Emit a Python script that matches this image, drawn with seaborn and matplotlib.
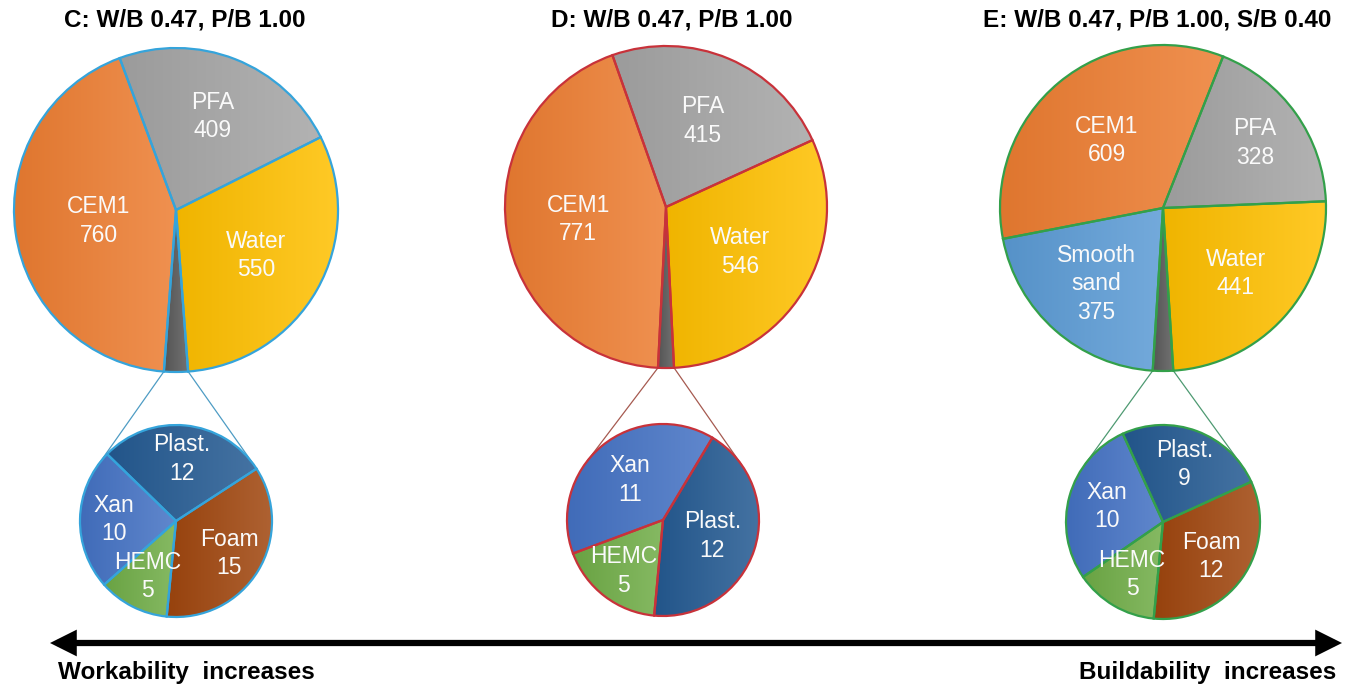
import numpy as np
import matplotlib
matplotlib.use("Agg")
import matplotlib.pyplot as plt
import seaborn as sns
from matplotlib.patches import FancyArrowPatch
from matplotlib.colors import to_rgb

# ---- data (kg/m3) ----
titles = ["C: W/B 0.47, P/B 1.00",
          "D: W/B 0.47, P/B 1.00",
          "E: W/B 0.47, P/B 1.00, S/B 0.40"]

C_main_labels = ["Water", "PFA", "CEM1"]
C_main_values = [550, 409, 760]
C_admix_labels = ["Plast.", "Xan", "HEMC", "Foam"]
C_admix_values = [12, 10, 5, 15]

D_main_labels = ["Water", "PFA", "CEM1"]
D_main_values = [546, 415, 771]
D_admix_labels = ["Xan", "HEMC", "Plast."]
D_admix_values = [11, 5, 12]

E_main_labels = ["Water", "PFA", "CEM1", "Smooth\nsand"]
E_main_values = [441, 328, 609, 375]
E_admix_labels = ["Plast.", "Xan", "HEMC", "Foam"]
E_admix_values = [9, 10, 5, 12]

left_note = "Workability  increases"
right_note = "Buildability  increases"

# ---- styling / layout (pixel units, y up) ----
colors = {"CEM1": "#ED7D31", "PFA": "#A5A5A5", "Water": "#FFC000",
          "Smooth\nsand": "#5B9BD5", "admix": "#5A5A5A",
          "Plast.": "#245A92", "Xan": "#4472C4", "HEMC": "#70AD47",
          "Foam": "#A0460E"}

mixes = [
    dict(main=(C_main_labels, C_main_values), small=(C_admix_labels, C_admix_values),
         center=(176, 475), r=162, s_center=(176, 164), s_r=96, s_start=33,
         edge="#35A4DB", link="#4E9CC4", title_x=185,
         main_dist=[0.57, 0.62, 0.48], small_dist=[0.65, 0.65, 0.65, 0.65]),
    dict(main=(D_main_labels, D_main_values), small=(D_admix_labels, D_admix_values),
         center=(666, 478), r=161, s_center=(663, 165), s_r=96, s_start=59,
         edge="#C8323A", link="#A65A50", title_x=672,
         main_dist=[0.54, 0.58, 0.55], small_dist=[0.54, 0.67, 0.54]),
    dict(main=(E_main_labels, E_main_values), small=(E_admix_labels, E_admix_values),
         center=(1163, 477), r=163, s_center=(1163, 163), s_r=97, s_start=24.5,
         edge="#33A04A", link="#4E9A72", title_x=1157,
         main_dist=[0.6, 0.69, 0.54, 0.62], small_dist=[0.63, 0.6, 0.63, 0.61]),
]

sns.set_theme(style="white")
plt.rcParams['font.family'] = ['Liberation Sans', 'DejaVu Sans']

W, H = 1353, 685
fig = plt.figure(figsize=(W / 100, H / 100), dpi=100)
ax = fig.add_axes([0, 0, 1, 1])


def shade(c, f):
    r, g, b = to_rgb(c)
    if f < 0:
        return (r * (1 + f), g * (1 + f), b * (1 + f))
    return (r + (1 - r) * f, g + (1 - g) * f, b + (1 - b) * f)


def gradient_fill(wedges, cols):
    # Excel-like horizontal gradient inside each wedge
    for w, c in zip(wedges, cols):
        v = w.get_path().vertices
        cmap = sns.blend_palette([shade(c, -0.06), shade(c, 0.15)], as_cmap=True)
        grad = np.linspace(0, 1, 128).reshape(1, -1)
        im = ax.imshow(grad, extent=(v[:, 0].min(), v[:, 0].max(), v[:, 1].min(), v[:, 1].max()),
                       cmap=cmap, origin='lower', interpolation='bilinear', zorder=2)
        im.set_clip_path(w)


def draw_pie(values, cols, center, r, start, edge):
    wedges, _ = ax.pie(values, colors=cols, startangle=start, counterclock=True,
                       center=center, radius=r, wedgeprops=dict(linewidth=0, zorder=1))
    gradient_fill(wedges, cols)
    ax.pie(values, startangle=start, counterclock=True, center=center, radius=r,
           wedgeprops=dict(fill=False, edgecolor=edge, linewidth=1.6, zorder=3))
    return wedges


def put_labels(wedges, labels, values, dists):
    for w, lab, val, d in zip(wedges, labels, values, dists):
        mid = np.deg2rad((w.theta1 + w.theta2) / 2)
        x = w.center[0] + d * w.r * np.cos(mid)
        y = w.center[1] + d * w.r * np.sin(mid)
        ax.text(x, y, f"{lab}\n{val}", ha='center', va='center', color='#FAFAFA',
                fontsize=16.5, linespacing=1.3, zorder=4)


for m, title in zip(mixes, titles):
    labels, values = m["main"]
    s_labels, s_values = m["small"]
    admix_total = sum(s_values)
    all_vals = [admix_total] + values
    cols = [colors["admix"]] + [colors[l] for l in labels]
    start = 270 - 180 * admix_total / sum(all_vals)
    wedges = draw_pie(all_vals, cols, m["center"], m["r"], start, m["edge"])
    put_labels(wedges[1:], labels, values, m["main_dist"])

    s_cols = [colors[l] for l in s_labels]
    s_wedges = draw_pie(s_values, s_cols, m["s_center"], m["s_r"], m["s_start"], m["edge"])
    put_labels(s_wedges, s_labels, s_values, m["small_dist"])

    # connector lines: from admix slice corners, tangent to the small pie
    g = wedges[0]
    cx, cy = m["s_center"]
    for th, sign in ((g.theta1, 1), (g.theta2, -1)):
        px = g.center[0] + g.r * np.cos(np.deg2rad(th))
        py = g.center[1] + g.r * np.sin(np.deg2rad(th))
        d = np.hypot(px - cx, py - cy)
        base = np.arctan2(py - cy, px - cx)
        a = base + sign * np.arccos(m["s_r"] / d)
        tx, ty = cx + m["s_r"] * np.cos(a), cy + m["s_r"] * np.sin(a)
        ax.plot([px, tx], [py, ty], color=m["link"], lw=0.9, zorder=0.5)

    ax.text(m["title_x"], 665, title, ha='center', va='center',
            fontsize=17.5, fontweight='bold', color='black')

arrow = FancyArrowPatch((50, 42), (1342, 42), arrowstyle='<|-|>,head_length=0.6,head_width=0.3',
                        mutation_scale=20, lw=4.5, color='black', shrinkA=0, shrinkB=0,
                        joinstyle='miter', capstyle='butt')
ax.add_patch(arrow)
ax.text(58, 13, left_note, ha='left', va='center', fontsize=17.5, fontweight='bold', color='black')
ax.text(1336, 13, right_note, ha='right', va='center', fontsize=17.5, fontweight='bold', color='black')

ax.set_xlim(0, W)
ax.set_ylim(0, H)
ax.set_aspect('equal')
ax.axis('off')

fig.savefig("out.png", dpi=100, facecolor='white')
